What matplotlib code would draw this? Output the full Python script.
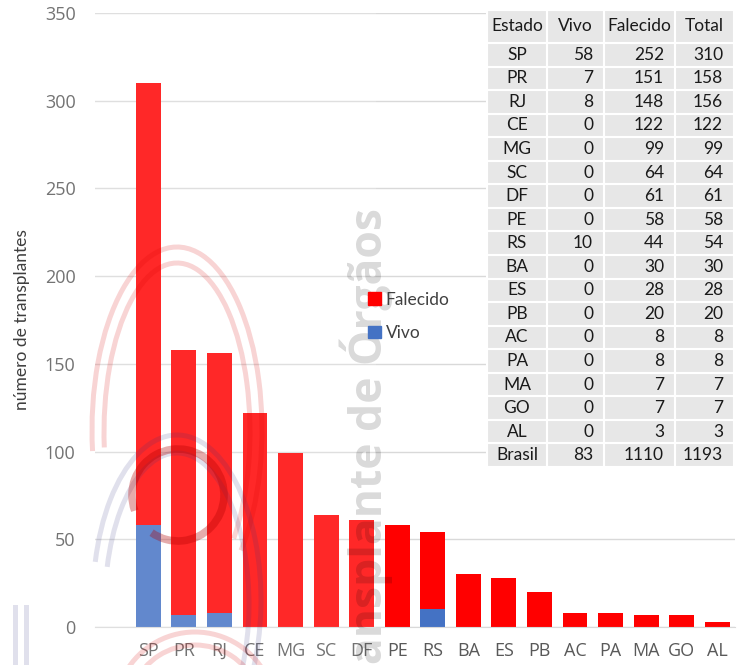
import matplotlib
matplotlib.use('Agg')
import matplotlib.pyplot as plt
from matplotlib.patches import Arc, Patch, Rectangle

estados = ['SP', 'PR', 'RJ', 'CE', 'MG', 'SC', 'DF', 'PE', 'RS',
           'BA', 'ES', 'PB', 'AC', 'PA', 'MA', 'GO', 'AL']
vivo = [58, 7, 8, 0, 0, 0, 0, 0, 10, 0, 0, 0, 0, 0, 0, 0, 0]
falecido = [252, 151, 148, 122, 99, 64, 61, 58, 44, 30, 28, 20, 8, 8, 7, 7, 3]
total = [310, 158, 156, 122, 99, 64, 61, 58, 54, 30, 28, 20, 8, 8, 7, 7, 3]
brasil = ['Brasil', 83, 1110, 1193]
colunas = ['Estado', 'Vivo', 'Falecido', 'Total']
yticks = [0, 50, 100, 150, 200, 250, 300, 350]

RED = '#ff0000'
BLUE = '#4472c4'
W, H = 749, 665

fig = plt.figure(figsize=(W / 100, H / 100), dpi=100)
ax = fig.add_axes([95 / W, 38 / H, 640 / W, 614 / H])

x = range(len(estados))
ax.bar(x, vivo, width=0.7, color=BLUE, zorder=2)
ax.bar(x, falecido, bottom=vivo, width=0.7, color=RED, zorder=2)

ax.set_xlim(-1.5, 16.5)
ax.set_ylim(0, 350)
ax.set_yticks(yticks)
ax.set_xticks(list(x))
ax.set_xticklabels(estados)
ax.grid(axis='y', color='#d9d9d9', lw=1, zorder=0)
for s in ['top', 'right', 'left']:
    ax.spines[s].set_visible(False)
ax.spines['bottom'].set_color('#d9d9d9')
ax.tick_params(axis='both', length=0, labelsize=13, colors='#595959')
ax.tick_params(axis='y', pad=14)
ax.tick_params(axis='x', pad=11)
for lab in ax.get_xticklabels() + ax.get_yticklabels():
    lab.set_family('Open Sans')
ax.set_ylabel('número de transplantes', family='Lato', fontsize=12.5,
              color='#1a1a1a', labelpad=11)

# tabela
cell_text = [[e, str(v), str(f), str(t)] for e, v, f, t in zip(estados, vivo, falecido, total)]
cell_text.append([str(c) for c in brasil])
col_px = [60, 57, 71, 59]
tab = ax.table(cellText=cell_text, colLabels=colunas,
               bbox=[(487 - 95) / 640, (627 - 467) / 614, 247 / 640, 457 / 614],
               cellLoc='center', zorder=3)
tab.auto_set_font_size(False)
for (r, c), cell in tab.get_celld().items():
    cell.set_facecolor('#e7e7e7')
    cell.set_edgecolor('white')
    cell.set_linewidth(1.5)
    cell.set_width(col_px[c])
    cell.set_height(33 if r == 0 else 23.6)
    cell.get_text().set_fontsize(12.5)
    cell.get_text().set_family('Lato')
    cell.get_text().set_color('#1a1a1a')
    if r > 0 and c > 0:
        cell.get_text().set_ha('right')
        cell._loc = 'right'
        cell.PAD = 11 / col_px[c]

handles = [Patch(color=RED, label='Falecido'), Patch(color=BLUE, label='Vivo')]
leg = fig.legend(handles=handles, loc='upper left', bbox_to_anchor=(352 / W, 1 - 276 / H),
                 frameon=False, handlelength=0.75, handleheight=0.75,
                 handletextpad=0.3, labelspacing=1.0,
                 prop={'family': 'Lato', 'size': 12.5})
for t in leg.get_texts():
    t.set_color('#404040')

# marca d'agua
ov = fig.add_axes([0, 0, 1, 1], zorder=5)
ov.set_xlim(0, W)
ov.set_ylim(H, 0)
ov.axis('off')
ov.patch.set_alpha(0)
ov.add_patch(Rectangle((0, 0), 376, H, color='white', alpha=0.16, lw=0))


def arco(cx, cy, w, h, a1, a2, color, lw, alpha):
    ov.add_patch(Arc((cx, cy), w, h, theta1=-a2, theta2=-a1,
                     color=color, lw=lw, alpha=alpha))


pale_red = (0.85, 0, 0)
lav = (0.2, 0.2, 0.5)
arco(177, 430, 170, 366, -62, 194, pale_red, 3.6, 0.17)
arco(177, 432, 146, 338, -62, 192, pale_red, 3.6, 0.17)
arco(177, 600, 168, 330, -45, 155, lav, 3.6, 0.15)
arco(177, 604, 144, 302, -45, 152, lav, 3.6, 0.15)
arco(178, 495, 92, 92, -125, 200, (0.7, 0, 0), 5.5, 0.33)
arco(195, 712, 160, 160, 25, 155, pale_red, 3.6, 0.17)
arco(195, 712, 134, 134, 25, 155, pale_red, 3.6, 0.17)
ov.plot([15, 15], [607, 665], color=lav, lw=3.6, alpha=0.15)
ov.plot([26, 26], [607, 665], color=lav, lw=3.6, alpha=0.15)
ov.text(366, 208, 'Transplante de Órgãos', rotation=90, ha='center', va='top',
        fontsize=32, fontweight='bold', family='Open Sans', color='black', alpha=0.15)

fig.savefig('out.png', dpi=100)
